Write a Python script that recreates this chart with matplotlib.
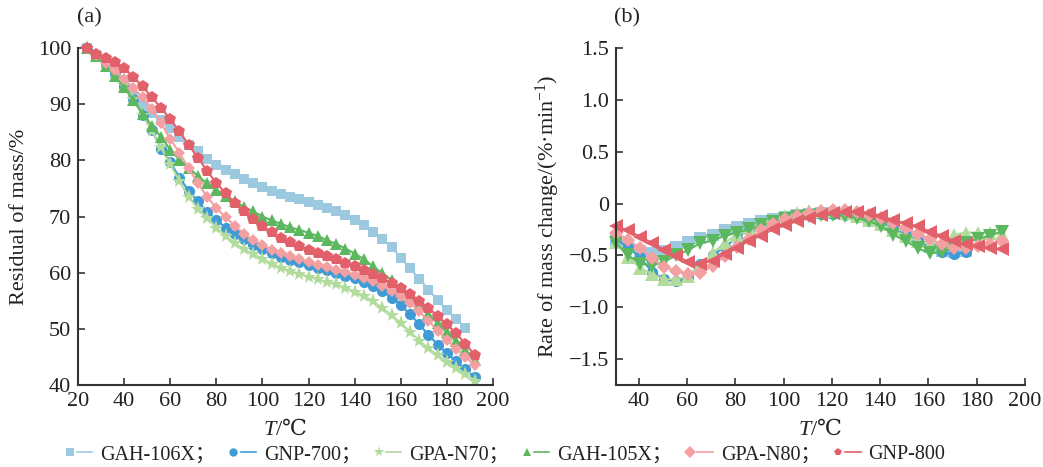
import matplotlib
matplotlib.use('Agg')
import matplotlib.pyplot as plt
from matplotlib.lines import Line2D
from matplotlib.legend_handler import HandlerTuple

plt.rcParams['font.family'] = ['Liberation Serif', 'DejaVu Serif', 'Noto Sans CJK SC']
plt.rcParams['mathtext.fontset'] = 'custom'
plt.rcParams['mathtext.rm'] = 'Liberation Serif'
plt.rcParams['mathtext.it'] = 'Liberation Serif:italic'
plt.rcParams['mathtext.sf'] = 'DejaVu Serif'   # has the degree-Celsius sign
plt.rcParams['mathtext.fallback'] = 'stix'

# ---- TG data (a): residual mass vs temperature ----
temp_a = [24, 28, 32, 36, 40, 44, 48, 52, 56, 60,
          64, 68, 72, 76, 80, 84, 88, 92, 96, 100,
          104, 108, 112, 116, 120, 124, 128, 132, 136, 140,
          144, 148, 152, 156, 160, 164, 168, 172, 176, 180,
          184, 188, 192]

mass_gah106x = [100, 98.8, 97.3, 95.5, 93.5, 91.5, 89.8, 88.5, 87.2, 85.7,
                84.2, 82.8, 81.6, 80.3, 79.2, 78.3, 77.5, 76.6, 75.9, 75.2,
                74.5, 74.0, 73.5, 73.1, 72.6, 72.1, 71.5, 70.9, 70.2, 69.4,
                68.4, 67.3, 66.0, 64.5, 62.7, 60.8, 58.9, 57.0, 55.1, 53.3,
                51.7, 50.2]
mass_gnp700 = [100, 98.7, 97.3, 95.5, 93.2, 90.9, 88.1, 85.4, 82.1, 79.7,
               76.9, 74.6, 72.7, 70.8, 69.4, 68.0, 66.8, 66.0, 65.0, 64.2,
               63.5, 62.8, 62.3, 61.9, 61.4, 60.9, 60.4, 59.9, 59.4, 59.0,
               58.4, 57.7, 56.8, 55.5, 54.2, 52.6, 50.8, 48.9, 47.2, 45.7,
               44.2, 42.8, 41.4]
mass_gpan70 = [100, 98.6, 97.3, 95.6, 93.4, 90.9, 88.1, 85.2, 82.3, 79.3,
               76.3, 73.5, 71.4, 69.8, 68.0, 66.6, 65.2, 64.2, 63.3, 62.5,
               61.6, 60.9, 60.3, 59.8, 59.3, 58.8, 58.3, 57.9, 57.3, 56.6,
               55.9, 54.9, 53.7, 52.4, 51.0, 49.5, 47.9, 46.5, 45.3, 44.1,
               43.1, 42.0, 40.8]
mass_gah105x = [100, 98.5, 96.8, 95.0, 93.0, 90.7, 88.3, 86.2, 84.2, 81.9,
                80.1, 78.7, 77.2, 75.9, 74.7, 73.7, 72.7, 71.7, 70.9, 70.0,
                69.3, 68.7, 68.1, 67.6, 67.1, 66.5, 65.8, 65.1, 64.3, 63.4,
                62.4, 61.1, 59.9, 58.7, 57.2, 55.7, 54.2, 52.6, 51.0, 49.4,
                47.8, 46.2, 44.4]
mass_gpan80 = [100, 98.8, 97.4, 96.0, 94.5, 92.8, 91.3, 89.2, 86.6, 83.8,
               81.3, 78.6, 75.9, 73.5, 71.5, 69.9, 68.3, 66.9, 65.8, 64.9,
               64.1, 63.5, 62.9, 62.4, 61.9, 61.4, 61.0, 60.5, 60.2, 59.6,
               59.1, 58.5, 57.7, 56.8, 55.8, 54.6, 53.1, 51.4, 49.7, 48.0,
               46.4, 45.0, 43.6]
mass_gnp800 = [100, 99.0, 98.3, 97.5, 96.5, 94.8, 93.2, 91.2, 89.4, 87.3,
               85.2, 82.7, 80.5, 78.1, 76.0, 74.1, 72.4, 70.9, 69.6, 68.3,
               67.2, 66.2, 65.4, 64.7, 64.1, 63.5, 63.0, 62.4, 61.8, 61.2,
               60.5, 59.8, 59.0, 58.1, 57.2, 56.2, 55.0, 53.7, 52.3, 50.8,
               49.2, 47.3, 45.4]

# ---- DTG data (b): rate of mass change vs temperature ----
temp_b = [30.5, 35.5, 40.5, 45.5, 50.5, 55.5, 60.5, 65.5, 70.5, 75.5,
          80.5, 85.5, 90.5, 95.5, 100.5, 105.5, 110.5, 115.5, 120.5, 125.5,
          130.5, 135.5, 140.5, 145.5, 150.5, 155.5, 160.5, 165.5, 170.5, 175.5,
          180.5, 185.5, 190.5]

rate_gah106x = [-0.35, -0.41, -0.46, -0.48, -0.46, -0.42, -0.37, -0.33, -0.30, -0.26,
                -0.23, -0.20, -0.17, -0.15, -0.13, -0.11, -0.10, -0.09, -0.09, -0.10,
                -0.12, -0.15, -0.19, -0.24, -0.30, -0.36, -0.42, -0.46, -0.47, -0.46]
rate_gnp700 = [-0.35, -0.42, -0.52, -0.66, -0.73, -0.75, -0.71, -0.58, -0.50, -0.42,
               -0.33, -0.26, -0.22, -0.19, -0.16, -0.13, -0.11, -0.10, -0.10, -0.11,
               -0.13, -0.16, -0.20, -0.25, -0.30, -0.36, -0.42, -0.47, -0.49, -0.47]
rate_gpan70 = [-0.37, -0.52, -0.62, -0.68, -0.73, -0.73, -0.70, -0.60, -0.48, -0.38,
               -0.30, -0.24, -0.20, -0.16, -0.12, -0.09, -0.07, -0.07, -0.07, -0.09,
               -0.12, -0.16, -0.20, -0.26, -0.31, -0.36, -0.39, -0.37, -0.30, -0.28,
               -0.28, -0.28, -0.29]
rate_gah105x = [-0.38, -0.50, -0.58, -0.60, -0.56, -0.50, -0.45, -0.38, -0.36, -0.31,
                -0.28, -0.25, -0.21, -0.18, -0.15, -0.13, -0.12, -0.11, -0.11, -0.12,
                -0.14, -0.17, -0.22, -0.30, -0.36, -0.43, -0.48, -0.47, -0.43, -0.38,
                -0.34, -0.31, -0.27]
rate_gpan80 = [-0.28, -0.35, -0.43, -0.53, -0.61, -0.65, -0.68, -0.67, -0.60, -0.51,
               -0.42, -0.34, -0.26, -0.20, -0.15, -0.12, -0.09, -0.07, -0.06, -0.06,
               -0.08, -0.11, -0.14, -0.19, -0.24, -0.29, -0.34, -0.39, -0.43, -0.43,
               -0.41, -0.39, -0.36]
rate_gnp800 = [-0.22, -0.26, -0.32, -0.38, -0.45, -0.51, -0.56, -0.58, -0.55, -0.49,
               -0.43, -0.36, -0.31, -0.25, -0.21, -0.17, -0.14, -0.11, -0.09, -0.08,
               -0.08, -0.09, -0.12, -0.16, -0.19, -0.22, -0.27, -0.31, -0.36, -0.39,
               -0.41, -0.43, -0.44]

names = ['GAH-106X', 'GNP-700', 'GPA-N70', 'GAH-105X', 'GPA-N80', 'GNP-800']
colors = ['#9dc9e0', '#3f9bd6', '#b2dc9c', '#5cb85f', '#f4a0a3', '#e2606a']
markers_a = ['s', 'o', '*', '^', 'D', 'p']
sizes_a = [7.5, 8, 11, 8.5, 6.5, 9]
markers_b = ['s', 'o', '^', 'v', 'D', '<']
sizes_b = [8, 8, 9.5, 9.5, 7, 9.5]

mass_all = [mass_gah106x, mass_gnp700, mass_gpan70, mass_gah105x, mass_gpan80, mass_gnp800]
rate_all = [rate_gah106x, rate_gnp700, rate_gpan70, rate_gah105x, rate_gpan80, rate_gnp800]

ink = '#222222'
t_label = '$T$/$\\mathsf{℃}$'

fig = plt.figure(figsize=(10.43, 4.67), dpi=100)
ax1 = fig.add_axes([0.0748, 0.1756, 0.3979, 0.7216])
ax2 = fig.add_axes([0.5906, 0.1756, 0.3921, 0.7216])

for vals, c, m, ms in zip(mass_all, colors, markers_a, sizes_a):
    ax1.plot(temp_a[:len(vals)], vals, color=c, lw=1.5, marker=m, ms=ms,
             markeredgewidth=0, clip_on=False)
for vals, c, m, ms in zip(rate_all, colors, markers_b, sizes_b):
    ax2.plot(temp_b[:len(vals)], vals, color=c, lw=1.5, marker=m, ms=ms,
             markeredgewidth=0, clip_on=False)

ax1.set_xlim(20, 200)
ax1.set_ylim(40, 100)
ax1.set_xticks(range(20, 201, 20))
ax1.set_yticks(range(40, 101, 10))
ax1.set_ylabel('Residual of mass/%', fontsize=16, color=ink, labelpad=6)
ax1.set_xlabel(t_label, fontsize=16, color=ink, labelpad=6)

ax2.set_xlim(30.5, 200)
ax2.set_ylim(-1.75, 1.5)
ax2.set_xticks(range(40, 201, 20))
ax2.set_yticks([1.5, 1.0, 0.5, 0, -0.5, -1.0, -1.5])
ax2.set_yticklabels(['1.5', '1.0', '0.5', '0', '\u22120.5', '\u22121.0', '\u22121.5'])
ax2.set_ylabel('Rate of mass change/(%·min$^{\u22121}$)', fontsize=16, color=ink, labelpad=5)
ax2.set_xlabel(t_label, fontsize=16, color=ink, labelpad=6)

for ax in (ax1, ax2):
    for side in ('top', 'right'):
        ax.spines[side].set_visible(False)
    for side in ('left', 'bottom'):
        ax.spines[side].set_color('#333333')
        ax.spines[side].set_linewidth(1.5)
    ax.tick_params(direction='in', length=5, width=1.2, color='#333333',
                   labelsize=16, labelcolor=ink, pad=5)

fig.text(0.0738, 0.961, '(a)', fontsize=16, color=ink, va='center', ha='left')
fig.text(0.589, 0.961, '(b)', fontsize=16, color=ink, va='center', ha='left')

# legend: marker on the left, short line on the right
handles = []
for c, m in zip(colors, markers_a):
    dot = Line2D([], [], color=c, marker=m, ms=6 if m != '*' else 8,
                 markeredgewidth=0, linestyle='none')
    seg = Line2D([], [], color=c, lw=1.2)
    handles.append((dot, seg))
labels = [n + '；' for n in names[:-1]] + [names[-1]]
fig.legend(handles, labels, handler_map={tuple: HandlerTuple(ndivide=2, pad=0)},
           loc='center', bbox_to_anchor=(0.483, 0.026), ncol=6, frameon=False,
           fontsize=14.5, handlelength=1.5, handletextpad=0.4, columnspacing=0.5,
           labelcolor=ink)

fig.savefig('out.png', dpi=100)
